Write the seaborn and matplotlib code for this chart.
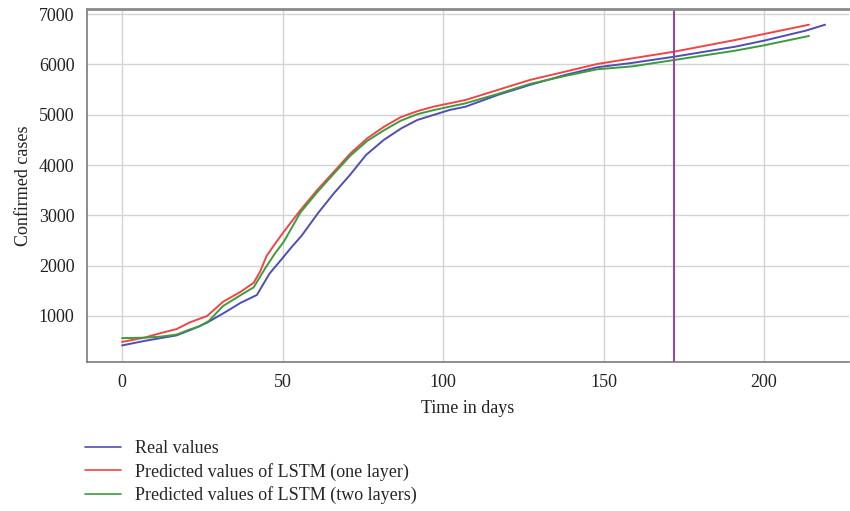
import matplotlib
matplotlib.use("Agg")
import matplotlib.pyplot as plt
import seaborn as sns
import pandas as pd
from matplotlib.lines import Line2D

# ---- data ----
real_days = [0, 7, 12, 17, 22, 26.5, 32, 37, 42, 46, 50, 52.5, 56, 61, 66, 71, 76, 81.5,
             87, 92, 97, 102, 107, 117, 127, 138, 148, 159, 172, 191, 200, 213, 219]
real_vals = [415, 505, 560, 615, 740, 868, 1070, 1264, 1417, 1848, 2150, 2345, 2600, 3040,
             3438, 3802, 4199, 4497, 4729, 4895, 4994, 5093, 5159, 5391, 5590, 5789, 5942,
             6030, 6152, 6351, 6471, 6670, 6788]

one_days = [0, 7, 12, 17, 21, 26.5, 31.5, 37, 41, 43, 45, 47.5, 50.4, 55.6, 60.8, 66, 71.2,
            76.4, 81.6, 86.8, 92, 97, 102, 107, 117, 127, 138, 148, 159, 172, 191, 200, 214]
one_vals = [485, 570, 660, 740, 870, 1000, 1284, 1483, 1660, 1880, 2190, 2420, 2675, 3106,
            3503, 3867, 4233, 4531, 4760, 4950, 5070, 5159, 5226, 5292, 5491, 5689, 5855,
            6007, 6120, 6252, 6484, 6603, 6788]

two_days = [0, 7, 12, 17, 21, 24, 27, 31.5, 37, 41, 44.6, 47.5, 50.4, 55.6, 60.8, 66, 71.2,
            76.4, 81.6, 86.8, 92, 97, 102, 107, 117, 127, 138, 148, 159, 172, 191, 200, 214]
two_vals = [560, 569, 590, 630, 730, 790, 900, 1200, 1417, 1570, 1948, 2230, 2477, 3060,
            3460, 3830, 4190, 4480, 4690, 4880, 5010, 5090, 5159, 5226, 5411, 5610, 5769,
            5902, 5960, 6087, 6272, 6378, 6564]

labels = ["Real values",
          "Predicted values of LSTM (one layer)",
          "Predicted values of LSTM (two layers)"]
split_day = 172
x_ticks = [0, 50, 100, 150, 200]
y_ticks = [1000, 2000, 3000, 4000, 5000, 6000, 7000]

colors = {labels[0]: "#4e4eb4", labels[1]: "#f04545", labels[2]: "#3c9c3c"}

frames = []
for lab, d, v in zip(labels, [real_days, one_days, two_days], [real_vals, one_vals, two_vals]):
    frames.append(pd.DataFrame({"day": d, "cases": v, "series": lab}))
df = pd.concat(frames, ignore_index=True)

sns.set_theme(style="whitegrid")
plt.rcParams["font.family"] = ["Liberation Serif", "DejaVu Serif"]

FS = 13

fig = plt.figure(figsize=(8.5, 5.11), dpi=100)
ax = fig.add_axes([0.1024, 0.2916, 0.8966, 0.6908])

sns.lineplot(data=df, x="day", y="cases", hue="series", palette=colors,
             hue_order=labels, estimator=None, sort=False, linewidth=1.4,
             legend=False, ax=ax)

ax.axvline(split_day, color="#a03ca0", linewidth=1.4)

ax.set_xlim(-10.9, 226.5)
ax.set_ylim(86, 7100)
ax.set_xticks(x_ticks)
ax.set_yticks(y_ticks)
ax.set_xlabel("Time in days", fontsize=FS, color="#222222", labelpad=6)
ax.set_ylabel("Confirmed cases", fontsize=FS, color="#222222", labelpad=5)
ax.tick_params(axis="both", labelsize=FS, colors="#222222", length=4,
               width=0.8, direction="out", pad=5)
ax.tick_params(axis="both", color="#777777")
ax.grid(True, color="#d4d4d4", linewidth=1.0)
ax.set_facecolor("white")
for side in ["left", "bottom", "top"]:
    ax.spines[side].set_visible(True)
    ax.spines[side].set_color("#7a7a7a")
    ax.spines[side].set_linewidth(1.2)
ax.spines["top"].set_linewidth(2.0)
ax.spines["top"].set_color("#8a8a8a")
ax.spines["right"].set_visible(False)

handles = [Line2D([0], [0], color=colors[l], linewidth=1.2) for l in labels]
fig.legend(handles, labels, loc="upper left", bbox_to_anchor=(0.1, 0.139),
           frameon=False, fontsize=FS, handlelength=2.0, handletextpad=0.75,
           labelspacing=0.32, borderaxespad=0, borderpad=0)

fig.savefig("out.png", dpi=100)
